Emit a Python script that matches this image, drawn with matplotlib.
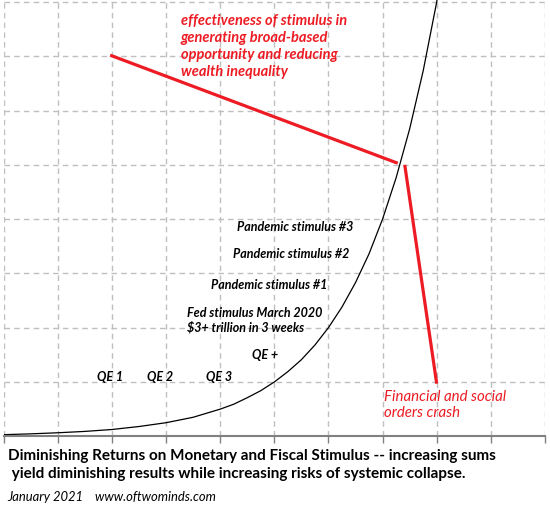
import matplotlib
matplotlib.use('Agg')
import matplotlib.pyplot as plt

# curve readings: effort (x) against result (y)
curve_x = [0, 0.5, 1, 1.5, 2, 2.5, 3, 3.5, 4, 4.25, 4.5, 4.75, 5, 5.25, 5.5, 5.75,
           6, 6.25, 6.5, 6.75, 7, 7.25, 7.5, 7.75, 8, 8.05]
curve_y = [0.03, 0.045, 0.065, 0.09, 0.125, 0.18, 0.25, 0.35, 0.5, 0.59, 0.71, 0.84,
           1.0, 1.19, 1.41, 1.68, 2.0, 2.38, 2.83, 3.36, 4.0, 4.76, 5.66, 6.73, 8.0, 8.3]

# the two red lines
effect_x = [1.97, 7.28]
effect_y = [7.02, 5.03]
crash_x = [7.41, 8.0]
crash_y = [5.0, 0.97]

effect_label = "effectiveness of stimulus in\ngenerating broad-based\nopportunity and reducing\nwealth inequality"
crash_label = "Financial and social\norders crash"
event_labels = ["QE 1", "QE 2", "QE 3", "QE +",
                "Fed stimulus March 2020\n$3+ trillion in 3 weeks",
                "Pandemic stimulus #1", "Pandemic stimulus #2", "Pandemic stimulus #3"]
event_pos = [(1.73, 1.11), (2.65, 1.11), (3.74, 1.11), (4.59, 1.52),
             (3.39, 2.15), (3.83, 2.80), (4.23, 3.37), (4.31, 3.87)]

title = ("Diminishing Returns on Monetary and Fiscal Stimulus -- increasing sums\n"
         " yield diminishing results while increasing risks of systemic collapse.")
footer = "January 2021    www.oftwominds.com"

RED = '#ed1c24'
plt.rcParams['font.family'] = ['Lato', 'DejaVu Sans']

fig = plt.figure(figsize=(5.5, 5.1), dpi=100)
ax = fig.add_axes([3.5 / 550, 1 - 437.3 / 510, 541.5 / 550, 437.3 / 510])
ax.set_xlim(0, 10)
ax.set_ylim(0, 8.055)

ax.set_xticks(range(0, 11))
ax.set_yticks(range(1, 9))
ax.grid(True, color='#bfbfbf', linestyle=(0, (4, 3)), linewidth=1)
ax.tick_params(axis='x', direction='out', length=5, width=1, color='#808080',
               labelbottom=False)
ax.tick_params(axis='y', length=0, labelleft=False)
for side in ['top', 'left', 'right']:
    ax.spines[side].set_visible(False)
ax.spines['bottom'].set_color('#808080')
ax.spines['bottom'].set_linewidth(1.5)

ax.plot(curve_x, curve_y, color='black', linewidth=0.9)
ax.plot(effect_x, effect_y, color=RED, linewidth=2.3, solid_capstyle='butt')
ax.plot(crash_x, crash_y, color=RED, linewidth=2.3, solid_capstyle='butt')

ax.text(3.27, 7.20, effect_label, color=RED, fontsize=10.5, fontweight='bold',
        fontstyle='italic', ha='left', va='center', linespacing=1.25)
ax.text(7.02, 0.60, crash_label, color=RED, fontsize=10.8, fontstyle='italic',
        ha='left', va='center', linespacing=1.2)
for lab, (px, py) in zip(event_labels, event_pos):
    ax.text(px, py, lab, color='black', fontsize=9, fontweight='bold',
            fontstyle='italic', ha='left', va='center', linespacing=1.2)

fig.text(8 / 550, 1 - 465 / 510, title, fontsize=11, fontweight='bold',
         ha='left', va='center', linespacing=1.3)
fig.text(7 / 550, 1 - 497 / 510, footer, fontsize=9.4, fontstyle='italic',
         ha='left', va='center')

fig.savefig('out.png', dpi=100)
